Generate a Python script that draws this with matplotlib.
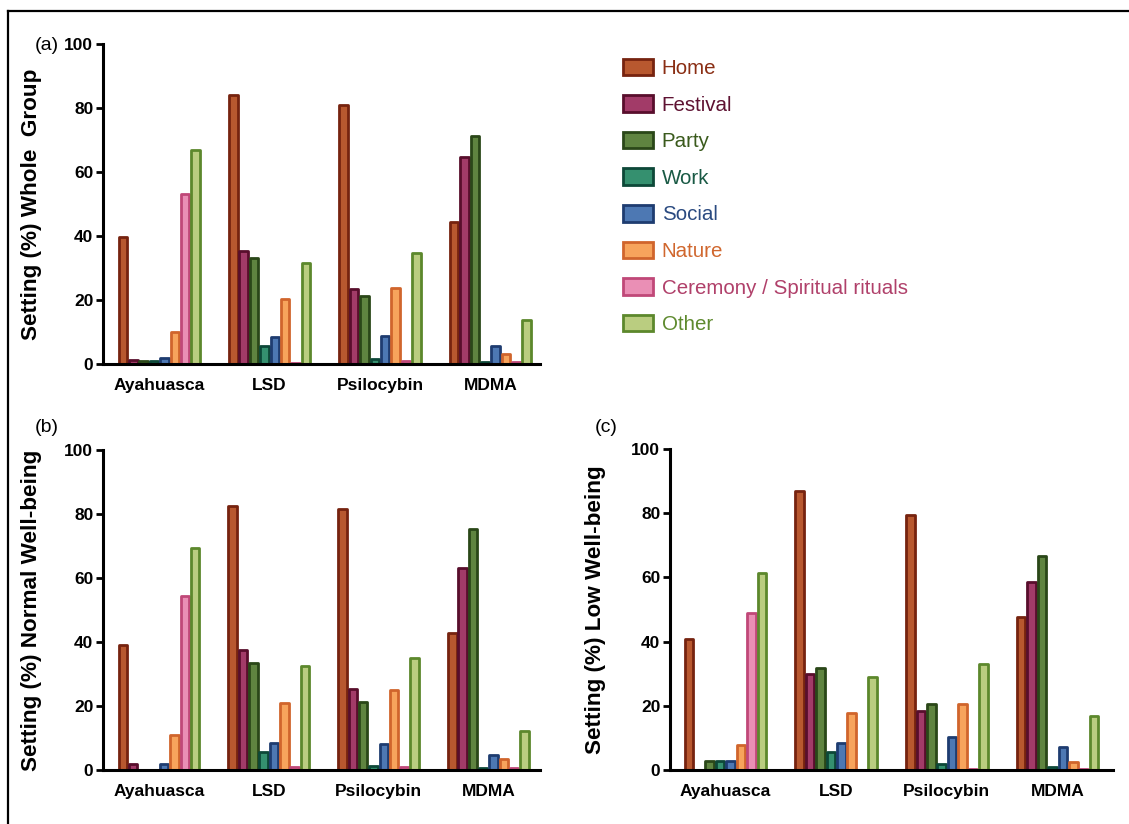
import matplotlib
matplotlib.use("Agg")
import matplotlib.pyplot as plt
import numpy as np
from matplotlib.lines import Line2D

plt.rcParams['font.family'] = ['Liberation Sans', 'DejaVu Sans']

drugs = ["Ayahuasca", "LSD", "Psilocybin", "MDMA"]
settings = ["Home", "Festival", "Party", "Work", "Social", "Nature",
            "Ceremony / Spiritual rituals", "Other"]

# values per setting, order: Ayahuasca, LSD, Psilocybin, MDMA
whole_group = {
    "Home":     [39.7, 84.0, 81.0, 44.4],
    "Festival": [1.3, 35.3, 23.3, 64.7],
    "Party":    [0.8, 33.0, 21.2, 71.3],
    "Work":     [0.8, 5.7, 1.5, 0.7],
    "Social":   [2.0, 8.3, 8.9, 5.5],
    "Nature":   [10.0, 20.3, 23.8, 3.1],
    "Ceremony / Spiritual rituals": [53.0, 0.4, 0.8, 0.5],
    "Other":    [67.0, 31.5, 34.8, 13.6],
}
normal_wb = {
    "Home":     [39.0, 82.6, 81.5, 42.9],
    "Festival": [1.9, 37.5, 25.3, 63.0],
    "Party":    [0.0, 33.3, 21.1, 75.3],
    "Work":     [0.0, 5.7, 1.25, 0.6],
    "Social":   [1.9, 8.3, 8.1, 4.7],
    "Nature":   [11.0, 21.0, 25.0, 3.3],
    "Ceremony / Spiritual rituals": [54.4, 0.8, 1.0, 0.5],
    "Other":    [69.3, 32.5, 35.1, 12.2],
}
low_wb = {
    "Home":     [40.9, 86.8, 79.5, 47.6],
    "Festival": [0.0, 29.8, 18.4, 58.5],
    "Party":    [2.8, 31.7, 20.6, 66.8],
    "Work":     [2.8, 5.5, 1.8, 0.8],
    "Social":   [2.8, 8.3, 10.2, 7.3],
    "Nature":   [7.8, 17.7, 20.6, 2.4],
    "Ceremony / Spiritual rituals": [48.9, 0.0, 0.4, 0.4],
    "Other":    [61.5, 28.9, 33.0, 16.8],
}

face_colors = ["#b8582f", "#a23b68", "#5f8440", "#35906f", "#4d78b3", "#f7a45c", "#ea8fb5", "#bacd80"]
edge_colors = ["#76230f", "#580e2c", "#2a4718", "#0d4838", "#1e3c70", "#d0652c", "#c04878", "#5c882c"]
text_colors = ["#8a2e14", "#5e1232", "#3a5a1c", "#1a5a45", "#2a4a80", "#d0672e", "#b0406a", "#5e8a2e"]

W, H = 1129, 824
fig = plt.figure(figsize=(W / 100, H / 100), dpi=100)

def fx(px):
    return px / W

def fy(py):
    return 1 - py / H

panels = [
    ("(a)", "Setting (%) Whole  Group", whole_group, (103, 540, 44, 364), (-0.51, 3.45)),
    ("(b)", "Setting (%) Normal Well-being", normal_wb, (103, 540, 450, 770), (-0.51, 3.47)),
    ("(c)", "Setting (%) Low Well-being", low_wb, (670, 1113, 449, 770), (-0.5, 3.5)),
]

pitch = 0.094
x = np.arange(len(drugs))
handles = []
for idx, (tag, ylabel, data, (l, r, t, b), xl) in enumerate(panels):
    ax = fig.add_axes([fx(l), fy(b), fx(r) - fx(l), fy(t) - fy(b)])
    for i, s in enumerate(settings):
        offs = (i - 3.5) * pitch
        bars = ax.bar(x + offs, data[s], width=pitch * 0.82, color=face_colors[i],
                      edgecolor=edge_colors[i], linewidth=2.0, label=s,
                      joinstyle='round', zorder=2)
        if idx == 0:
            handles.append(bars)
    ax.set_xlim(*xl)
    ax.set_ylim(0, 100)
    ax.set_yticks([0, 20, 40, 60, 80, 100])
    ax.set_xticks(x)
    ax.set_xticklabels(drugs, fontsize=12.5, fontweight='bold')
    ax.tick_params(axis='x', length=0, pad=10)
    ax.tick_params(axis='y', length=5, width=2, labelsize=12.5, pad=2)
    for lab in ax.get_yticklabels():
        lab.set_fontweight('bold')
    for sp in ['top', 'right']:
        ax.spines[sp].set_visible(False)
    for sp in ['left', 'bottom']:
        ax.spines[sp].set_linewidth(2.2)
        ax.spines[sp].set_zorder(3)
    ax.set_ylabel(ylabel, fontsize=16.2, fontweight='bold')
    ax.yaxis.set_label_coords(-(l - (42 if idx < 2 else 606)) / (r - l), 0.5)

fig.text(fx(35), fy(46), "(a)", fontsize=14, va='center', ha='left')
fig.text(fx(35), fy(428), "(b)", fontsize=14, va='center', ha='left')
fig.text(fx(595), fy(428), "(c)", fontsize=14, va='center', ha='left')

leg = fig.legend(handles=handles, labels=settings, loc='upper left',
                 bbox_to_anchor=(fx(604), fy(40)), frameon=False, fontsize=14.8,
                 handlelength=1.46, handleheight=0.87, handletextpad=0.44,
                 labelspacing=0.835)
for txt, c in zip(leg.get_texts(), text_colors):
    txt.set_color(c)

# figure frame (top and left edges)
fig.add_artist(Line2D([fx(8), 1.0], [fy(11), fy(11)], color='black', lw=1.6, transform=fig.transFigure))
fig.add_artist(Line2D([fx(8), fx(8)], [fy(11), 0.0], color='black', lw=1.6, transform=fig.transFigure))

fig.savefig("out.png", dpi=100)
